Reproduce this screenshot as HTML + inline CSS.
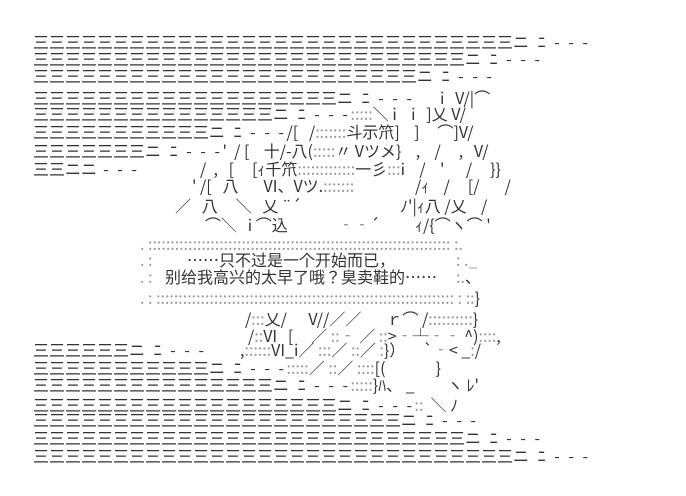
<!DOCTYPE html>
<html><head><meta charset="utf-8"><style>
html,body{margin:0;padding:0;background:#fff;width:686px;height:496px;overflow:hidden;}
.l{position:absolute;white-space:pre;font-family:"Noto Sans CJK JP","Liberation Sans",sans-serif;font-size:16px;line-height:18px;color:#333;}
.d{color:#999;}
.t{letter-spacing:2.5px;}
</style></head><body>
<div class="l" style="left:33px;top:32px">三三三三三三三三三三三三三三三三三三三三三三三三三三三三三三<span class="t">ニ ﾆ - - -</span></div>
<div class="l" style="left:33px;top:49px">三三三三三三三三三三三三三三三三三三三三三三三三三三三<span class="t">ニ ﾆ - - -</span></div>
<div class="l" style="left:33px;top:66px">三三三三三三三三三三三三三三三三三三三三三三三三<span class="t">ニ ﾆ - - -</span></div>
<div class="l" style="left:33px;top:88px">三三三三三三三三三三三三三三三三三三三<span class="t">ニ ﾆ - - -</span></div>
<div class="l" style="left:440px;top:88px">i   V/|⌒</div>
<div class="l" style="left:33px;top:104px">三三三三三三三三三三三三三三三<span class="t">ニ ﾆ - - -</span><span class="d">:::::</span>＼ i    i   ]乂 V/</div>
<div class="l" style="left:33px;top:122px">三三三三三三三三三三三<span class="t">ニ ﾆ - - -</span>/[   /<span class="d">:::::::</span>斗示笊]    ]     ⌒]V/</div>
<div class="l" style="left:33px;top:141px">三三三三三三三<span class="t">ニ ﾆ - - -</span>'  / [    十/-八(<span class="d">:::::</span>〃 Vツメ}    ,    /     ,   V/</div>
<div class="l" style="left:33px;top:159px">三三ニニ<span class="t"> - - -</span></div>
<div class="l" style="left:200px;top:159px">/  ,   [     [ｨ千笊<span class="d">:::::::::::::</span>一彡<span class="d">:::</span>i    /    '      /     }}</div>
<div class="l" style="left:192px;top:176px">' /[   八       VI、Vツ.<span class="d">:::::::</span></div>
<div class="l" style="left:415px;top:176px">/ｨ    /     [/       /</div>
<div class="l" style="left:175px;top:196px">／   八     ＼   乂 ¨´</div>
<div class="l" style="left:400px;top:196px">ﾉ'|ｨ八 /乂    /</div>
<div class="l" style="left:205px;top:215px">⌒＼   i ⌒込</div>
<div class="l" style="left:338px;top:215px">‐‐´</div>
<div class="l" style="left:415px;top:215px">ｨ/{⌒ヽ⌒ '</div>
<div class="l d" style="left:140px;top:234px">. :::::::::::::::::::::::::::::::::::::::::::::::::::::::::::::::::::: :.</div>
<div class="l d" style="left:140px;top:250px">. :</div>
<div class="l" style="left:187px;top:250px">……只不过是一个开始而已，</div>
<div class="l d" style="left:456px;top:250px">: ._</div>
<div class="l d" style="left:140px;top:267px">. :</div>
<div class="l" style="left:165px;top:267px">别给我高兴的太早了哦？臭卖鞋的……</div>
<div class="l d" style="left:456px;top:267px">:.<span style="color:#333">、</span></div>
<div class="l d" style="left:140px;top:288px">. : ::::::::::::::::::::::::::::::::::::::::::::::::::::::::::::::::::: : ::<span style="color:#333">}</span></div>
<div class="l" style="left:245px;top:309px">/<span class="d">:::</span>乂/      V//／／       ｒ⌒ /<span class="d">::::::::::</span>}</div>
<div class="l" style="left:248px;top:326px">/<span class="d">::</span>VI   [     ／ <span class="d">::</span>‐ ／ <span class="d">::</span>&gt;‐┴‐‐ ^)<span class="d">::::</span>,</div>
<div class="l" style="left:33px;top:340px">三三三三三三<span class="t">ニ ﾆ - - -</span></div>
<div class="l" style="left:240px;top:340px">,<span class="d">::::::</span>VI_i／ <span class="d">:::</span>／ <span class="d">::</span>／ <span class="d">:</span>}）     `‐&lt; _<span class="d">:</span>/</div>
<div class="l" style="left:33px;top:358px">三三三三三三三三三三三<span class="t">ニ ﾆ - - -</span><span class="d">:::::</span>／ <span class="d">::</span>／ <span class="d">::::</span>[(              }</div>
<div class="l" style="left:33px;top:375px">三三三三三三三三三三三三三三三<span class="t">ニ ﾆ - - -</span><span class="d">:::::</span>}ﾊ、 _         ヽ ﾚ'</div>
<div class="l" style="left:33px;top:395px">三三三三三三三三三三三三三三三三三三三<span class="t">ニ ﾆ - - -</span><span class="d">::</span>  ＼ ﾉ</div>
<div class="l" style="left:33px;top:410px">三三三三三三三三三三三三三三三三三三三三三三三<span class="t">ニ ﾆ - - -</span></div>
<div class="l" style="left:33px;top:428px">三三三三三三三三三三三三三三三三三三三三三三三三三三三<span class="t">ニ ﾆ - - -</span></div>
<div class="l" style="left:33px;top:446px">三三三三三三三三三三三三三三三三三三三三三三三三三三三三三三<span class="t">ニ ﾆ - - -</span></div>
</body></html>
